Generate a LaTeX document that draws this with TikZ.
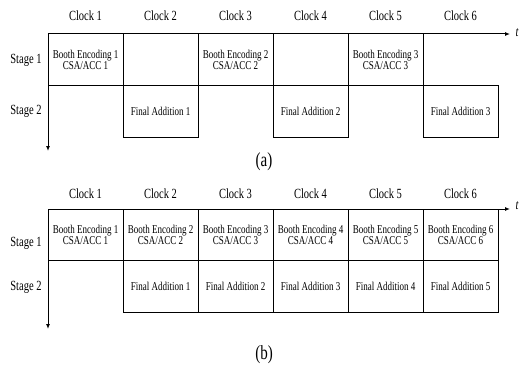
\documentclass[tikz,border=0pt]{standalone}
\usepackage{fontspec}
\setmainfont[FakeStretch=0.75]{Liberation Serif}
\usetikzlibrary{arrows.meta}

\tikzset{
  cell/.style={draw, line width=1pt, minimum width=75pt, minimum height=51.5pt,
    inner sep=0pt, align=center, font=\fontsize{12}{11.5}\selectfont},
  head/.style={font=\fontsize{14}{15}\selectfont},
  axis/.style={line width=1pt, -{Latex[length=5pt,width=4pt]}}
}

\begin{document}
\begin{tikzpicture}[x=1pt, y=-1pt]
\useasboundingbox (0,0) rectangle (521,369);

% (a) without pipelining
\node[head] (clkA1) at (85.5,16) {Clock 1};
\node[head] (clkA2) at (160.5,16) {Clock 2};
\node[head] (clkA3) at (235.5,16) {Clock 3};
\node[head] (clkA4) at (310.5,16) {Clock 4};
\node[head] (clkA5) at (385.5,16) {Clock 5};
\node[head] (clkA6) at (460.5,16) {Clock 6};

\node[head] (stgA1) at (26,60) {Stage 1};
\node[head] (stgA2) at (26,111) {Stage 2};

% stage 1
\node[cell] (beA1) at (85.5,59.75) {Booth Encoding 1\\CSA/ACC 1};
\node[cell] (beA2) at (235.5,59.75) {Booth Encoding 2\\CSA/ACC 2};
\node[cell] (beA3) at (385.5,59.75) {Booth Encoding 3\\CSA/ACC 3};

% stage 2
\node[cell] (faA1) at (160.5,111.25) {Final Addition 1};
\node[cell] (faA2) at (310.5,111.25) {Final Addition 2};
\node[cell] (faA3) at (460.5,111.25) {Final Addition 3};

% axes
\coordinate (oA) at (48,34);
\coordinate (tA) at (510,34);
\coordinate (dA) at (48,151);
\draw[axis] (oA) -- (tA);
\draw[axis] (oA) -- (dA);
\node[head, anchor=west, font=\fontsize{14}{15}\selectfont\itshape] (timeA) at (512,33) {t};

\node[font=\fontsize{20}{22}\selectfont] (capA) at (264,162) {(a)};

% (b) with pipelining
\node[head] (clkB1) at (85.5,194) {Clock 1};
\node[head] (clkB2) at (160.5,194) {Clock 2};
\node[head] (clkB3) at (235.5,194) {Clock 3};
\node[head] (clkB4) at (310.5,194) {Clock 4};
\node[head] (clkB5) at (385.5,194) {Clock 5};
\node[head] (clkB6) at (460.5,194) {Clock 6};

\node[head] (stgB1) at (26,243) {Stage 1};
\node[head] (stgB2) at (26,287) {Stage 2};

% stage 1
\node[cell] (beB1) at (85.5,234.75) {Booth Encoding 1\\CSA/ACC 1};
\node[cell] (beB2) at (160.5,234.75) {Booth Encoding 2\\CSA/ACC 2};
\node[cell] (beB3) at (235.5,234.75) {Booth Encoding 3\\CSA/ACC 3};
\node[cell] (beB4) at (310.5,234.75) {Booth Encoding 4\\CSA/ACC 4};
\node[cell] (beB5) at (385.5,234.75) {Booth Encoding 5\\CSA/ACC 5};
\node[cell] (beB6) at (460.5,234.75) {Booth Encoding 6\\CSA/ACC 6};

% stage 2
\node[cell] (faB1) at (160.5,286.25) {Final Addition 1};
\node[cell] (faB2) at (235.5,286.25) {Final Addition 2};
\node[cell] (faB3) at (310.5,286.25) {Final Addition 3};
\node[cell] (faB4) at (385.5,286.25) {Final Addition 4};
\node[cell] (faB5) at (460.5,286.25) {Final Addition 5};

% axes
\coordinate (oB) at (48,209);
\coordinate (tB) at (510,209);
\coordinate (dB) at (48,329);
\draw[axis] (oB) -- (tB);
\draw[axis] (oB) -- (dB);
\node[head, anchor=west, font=\fontsize{14}{15}\selectfont\itshape] (timeB) at (512,206) {t};

\node[font=\fontsize{20}{22}\selectfont] (capB) at (264,355) {(b)};
\end{tikzpicture}
\end{document}
